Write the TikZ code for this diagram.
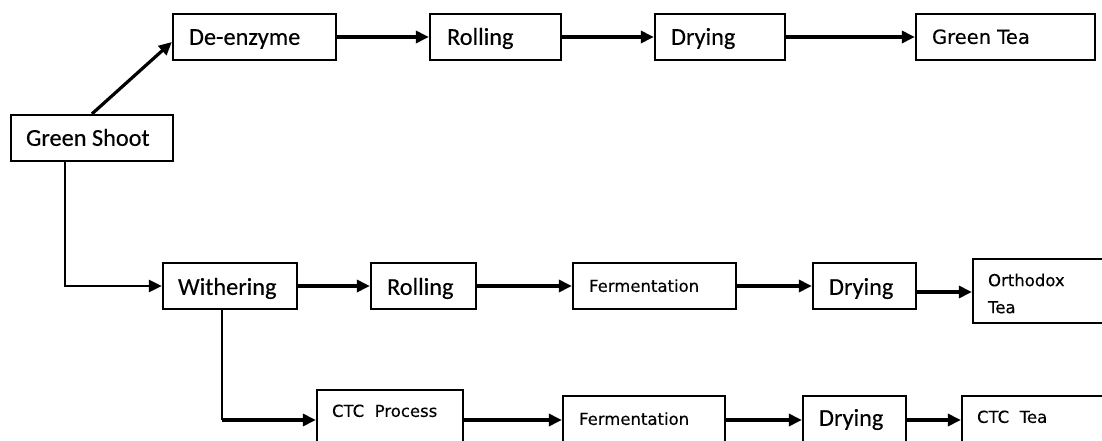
\documentclass[tikz,border=0pt]{standalone}
\usepackage{fontspec}
\setmainfont{Carlito}[FakeBold=0.35]
\newfontfamily\dvs{DejaVu Sans}[FakeBold=0.3]
\usetikzlibrary{arrows.meta,calc}

\begin{document}
\begin{tikzpicture}[x=1pt,y=-1pt,
  stepbox/.style={draw=black, line width=2.3pt, fill=white, rectangle, inner sep=0pt},
  big/.style={font=\fontsize{24.3}{28}\selectfont, inner sep=0pt, anchor=base west},
  small/.style={font=\dvs\fontsize{16.5}{27}\selectfont, inner sep=0pt, anchor=base west},
  flow/.style={line width=3.2pt, -{Triangle[length=13pt,width=12pt]}},
  plain/.style={line width=2.4pt},
]
\useasboundingbox (0,0) rectangle (1102,441);
\clip (0,0) rectangle (1102,441);

% ---- boxes ----
\node[stepbox, minimum width=162pt, minimum height=46pt] (gs) at (92,138) {};
\node[stepbox, minimum width=163pt, minimum height=46pt] (de) at (254.5,37) {};
\node[stepbox, minimum width=131pt, minimum height=46pt] (r1) at (495.5,37) {};
\node[stepbox, minimum width=130pt, minimum height=46pt] (d1) at (720,37) {};
\node[stepbox, minimum width=179pt, minimum height=46pt] (gt) at (1005.5,37) {};

\node[stepbox, minimum width=134pt, minimum height=46pt] (wi) at (230,286) {};
\node[stepbox, minimum width=105pt, minimum height=46pt] (r2) at (423.5,286) {};
\node[stepbox, minimum width=163pt, minimum height=46pt] (f1) at (654.5,286) {};
\node[stepbox, minimum width=103pt, minimum height=46pt] (d2) at (864.5,286) {};
\node[stepbox, minimum width=150pt, minimum height=64pt] (ot) at (1048,291) {};

\node[stepbox, minimum width=146pt, minimum height=60pt] (ctc) at (390,420) {};
\node[stepbox, minimum width=162pt, minimum height=48pt] (f2) at (644,420) {};
\node[stepbox, minimum width=103pt, minimum height=48pt] (d3) at (854.5,420) {};
\node[stepbox, minimum width=160pt, minimum height=48pt] (ct) at (1042,420) {};

% ---- labels ----
\node[big] (gs-t) at ($(gs.north west)+(16,32)$) {Green Shoot};
\node[big] (de-t) at ($(de.north west)+(17,32)$) {De-enzyme};
\node[big] (r1-t) at ($(r1.north west)+(18,32)$) {Rolling};
\node[big] (d1-t) at ($(d1.north west)+(17,32)$) {Drying};
\node[small, font=\dvs\fontsize{19.5}{24}\selectfont] (gt-t) at ($(gt.north west)+(17,31)$) {Green Tea};

\node[big] (wi-t) at ($(wi.north west)+(16,33)$) {Withering};
\node[big] (r2-t) at ($(r2.north west)+(17,33)$) {Rolling};
\node[small] (f1-t) at ($(f1.north west)+(17,30)$) {Fermentation};
\node[big] (d2-t) at ($(d2.north west)+(17,33)$) {Drying};
\node[small, anchor=north west, align=left] (ot-t) at ($(ot.north west)+(16,15.6)$) {Orthodox\\Tea};

\node[small] (ctc-t) at ($(ctc.north west)+(16,28)$) {CTC\ \ Process};
\node[small] (f2-t) at ($(f2.north west)+(17,30)$) {Fermentation};
\node[big] (d3-t) at ($(d3.north west)+(17,31)$) {Drying};
\node[small] (ct-t) at ($(ct.north west)+(16,28)$) {CTC\ \ Tea};

% ---- green tea line ----
\draw[flow] (gs.north) -- ([yshift=-5pt]de.west);
\draw[flow] (de) -- (r1);
\draw[flow] (r1) -- (d1);
\draw[flow] (d1) -- (gt);

% ---- orthodox line ----
\draw[flow, line width=2.8pt] ([xshift=-27pt]gs.south) |- (wi.west);
\draw[flow] (wi) -- (r2);
\draw[flow] (r2) -- (f1);
\draw[flow] (f1) -- (d2);
\draw[flow] ([yshift=-6pt]d2.east) -- ([yshift=-6pt]d2.east -| ot.west);

% ---- CTC line ----
\coordinate (bend) at ([xshift=-8pt]wi.south |- ctc.west);
\draw[plain] ([xshift=-8pt]wi.south) -- (bend);
\draw[flow, line width=3.8pt] (bend) -- (ctc.west);
\draw[flow] (ctc) -- (f2);
\draw[flow] (f2) -- (d3);
\draw[flow] (d3) -- (ct);
\end{tikzpicture}
\end{document}
